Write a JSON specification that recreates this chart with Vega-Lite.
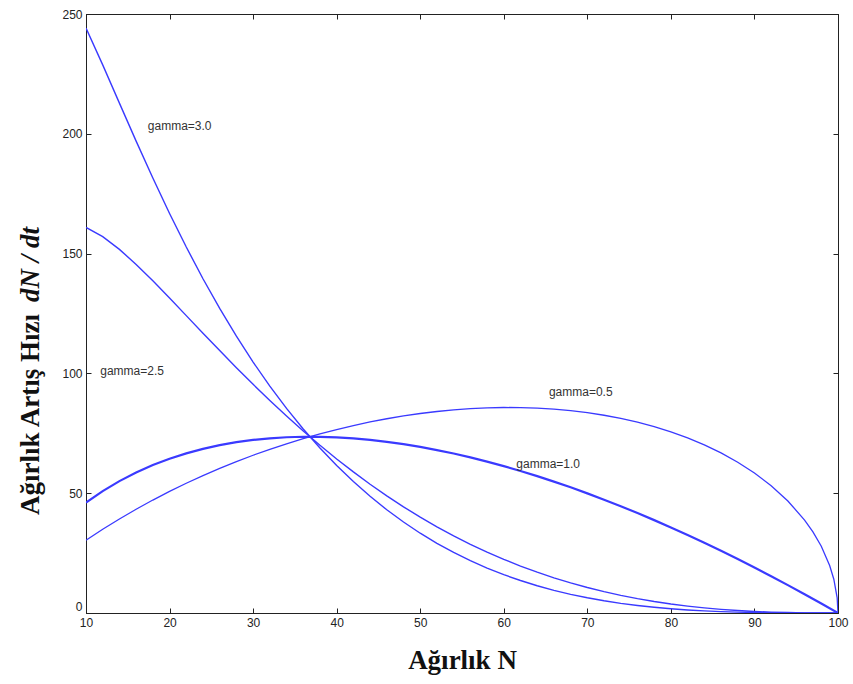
{
  "$schema": "https://vega.github.io/schema/vega-lite/v6.json",
  "width": 752,
  "height": 599,
  "autosize": "none",
  "padding": {"left": 86, "top": 14, "right": 15, "bottom": 71},
  "background": "white",
  "config": {
    "view": {"stroke": "#222", "strokeWidth": 1},
    "axis": {"grid": false, "domainColor": "#222", "tickColor": "#222", "labelFont": "Liberation Sans", "labelFontSize": 12, "labelColor": "#222", "labelFlush": false, "tickSize": -5, "titleFont": "Liberation Serif", "titleFontWeight": "bold", "titleFontSize": 27, "titleColor": "#111"}
  },
  "datasets": {
    "curves": [
      {"N":10,"r":30.35,"g":"0.5"},{"N":12,"r":34.95,"g":"0.5"},{"N":14,"r":39.26,"g":"0.5"},{"N":16,"r":43.32,"g":"0.5"},{"N":18,"r":47.14,"g":"0.5"},{"N":20,"r":50.75,"g":"0.5"},{"N":22,"r":54.14,"g":"0.5"},{"N":24,"r":57.34,"g":"0.5"},{"N":26,"r":60.35,"g":"0.5"},{"N":28,"r":63.18,"g":"0.5"},{"N":30,"r":65.84,"g":"0.5"},{"N":32,"r":68.32,"g":"0.5"},{"N":34,"r":70.63,"g":"0.5"},{"N":36,"r":72.78,"g":"0.5"},{"N":38,"r":74.76,"g":"0.5"},{"N":40,"r":76.58,"g":"0.5"},{"N":42,"r":78.24,"g":"0.5"},{"N":44,"r":79.74,"g":"0.5"},{"N":46,"r":81.07,"g":"0.5"},{"N":48,"r":82.25,"g":"0.5"},{"N":50,"r":83.26,"g":"0.5"},{"N":52,"r":84.10,"g":"0.5"},{"N":54,"r":84.78,"g":"0.5"},{"N":56,"r":85.28,"g":"0.5"},{"N":58,"r":85.61,"g":"0.5"},{"N":60,"r":85.77,"g":"0.5"},{"N":62,"r":85.73,"g":"0.5"},{"N":64,"r":85.51,"g":"0.5"},{"N":66,"r":85.09,"g":"0.5"},{"N":68,"r":84.46,"g":"0.5"},{"N":70,"r":83.61,"g":"0.5"},{"N":72,"r":82.53,"g":"0.5"},{"N":74,"r":81.21,"g":"0.5"},{"N":76,"r":79.63,"g":"0.5"},{"N":78,"r":77.76,"g":"0.5"},{"N":80,"r":75.58,"g":"0.5"},{"N":82,"r":73.06,"g":"0.5"},{"N":84,"r":70.15,"g":"0.5"},{"N":86,"r":66.80,"g":"0.5"},{"N":88,"r":62.93,"g":"0.5"},{"N":90,"r":58.43,"g":"0.5"},{"N":92,"r":53.13,"g":"0.5"},{"N":94,"r":46.76,"g":"0.5"},{"N":96,"r":38.79,"g":"0.5"},{"N":97,"r":33.86,"g":"0.5"},{"N":98,"r":27.86,"g":"0.5"},{"N":99,"r":19.85,"g":"0.5"},{"N":99.5,"r":14.09,"g":"0.5"},{"N":99.9,"r":6.32,"g":"0.5"},{"N":100,"r":0,"g":"0.5"},
      {"N":10,"r":46.05,"g":"1.0"},{"N":12,"r":50.89,"g":"1.0"},{"N":14,"r":55.05,"g":"1.0"},{"N":16,"r":58.64,"g":"1.0"},{"N":18,"r":61.73,"g":"1.0"},{"N":20,"r":64.38,"g":"1.0"},{"N":22,"r":66.62,"g":"1.0"},{"N":24,"r":68.50,"g":"1.0"},{"N":26,"r":70.05,"g":"1.0"},{"N":28,"r":71.29,"g":"1.0"},{"N":30,"r":72.24,"g":"1.0"},{"N":32,"r":72.92,"g":"1.0"},{"N":34,"r":73.36,"g":"1.0"},{"N":36,"r":73.56,"g":"1.0"},{"N":38,"r":73.54,"g":"1.0"},{"N":40,"r":73.30,"g":"1.0"},{"N":42,"r":72.87,"g":"1.0"},{"N":44,"r":72.25,"g":"1.0"},{"N":46,"r":71.44,"g":"1.0"},{"N":48,"r":70.46,"g":"1.0"},{"N":50,"r":69.31,"g":"1.0"},{"N":52,"r":68.01,"g":"1.0"},{"N":54,"r":66.55,"g":"1.0"},{"N":56,"r":64.94,"g":"1.0"},{"N":58,"r":63.19,"g":"1.0"},{"N":60,"r":61.30,"g":"1.0"},{"N":62,"r":59.28,"g":"1.0"},{"N":64,"r":57.12,"g":"1.0"},{"N":66,"r":54.85,"g":"1.0"},{"N":68,"r":52.45,"g":"1.0"},{"N":70,"r":49.93,"g":"1.0"},{"N":72,"r":47.30,"g":"1.0"},{"N":74,"r":44.56,"g":"1.0"},{"N":76,"r":41.71,"g":"1.0"},{"N":78,"r":38.76,"g":"1.0"},{"N":80,"r":35.70,"g":"1.0"},{"N":82,"r":32.55,"g":"1.0"},{"N":84,"r":29.29,"g":"1.0"},{"N":86,"r":25.94,"g":"1.0"},{"N":88,"r":22.50,"g":"1.0"},{"N":90,"r":18.96,"g":"1.0"},{"N":92,"r":15.34,"g":"1.0"},{"N":94,"r":11.63,"g":"1.0"},{"N":96,"r":7.84,"g":"1.0"},{"N":98,"r":3.96,"g":"1.0"},{"N":100,"r":0,"g":"1.0"},
      {"N":10,"r":160.91,"g":"2.5"},{"N":12,"r":157.10,"g":"2.5"},{"N":14,"r":151.77,"g":"2.5"},{"N":16,"r":145.48,"g":"2.5"},{"N":18,"r":138.62,"g":"2.5"},{"N":20,"r":131.45,"g":"2.5"},{"N":22,"r":124.12,"g":"2.5"},{"N":24,"r":116.79,"g":"2.5"},{"N":26,"r":109.52,"g":"2.5"},{"N":28,"r":102.38,"g":"2.5"},{"N":30,"r":95.43,"g":"2.5"},{"N":32,"r":88.70,"g":"2.5"},{"N":34,"r":82.20,"g":"2.5"},{"N":36,"r":75.96,"g":"2.5"},{"N":38,"r":69.99,"g":"2.5"},{"N":40,"r":64.29,"g":"2.5"},{"N":42,"r":58.88,"g":"2.5"},{"N":44,"r":53.74,"g":"2.5"},{"N":46,"r":48.89,"g":"2.5"},{"N":48,"r":44.31,"g":"2.5"},{"N":50,"r":40.00,"g":"2.5"},{"N":52,"r":35.96,"g":"2.5"},{"N":54,"r":32.19,"g":"2.5"},{"N":56,"r":28.67,"g":"2.5"},{"N":58,"r":25.40,"g":"2.5"},{"N":60,"r":22.38,"g":"2.5"},{"N":62,"r":19.59,"g":"2.5"},{"N":64,"r":17.03,"g":"2.5"},{"N":66,"r":14.69,"g":"2.5"},{"N":68,"r":12.56,"g":"2.5"},{"N":70,"r":10.64,"g":"2.5"},{"N":72,"r":8.91,"g":"2.5"},{"N":74,"r":7.36,"g":"2.5"},{"N":76,"r":6.00,"g":"2.5"},{"N":78,"r":4.80,"g":"2.5"},{"N":80,"r":3.76,"g":"2.5"},{"N":82,"r":2.88,"g":"2.5"},{"N":84,"r":2.13,"g":"2.5"},{"N":86,"r":1.52,"g":"2.5"},{"N":88,"r":1.03,"g":"2.5"},{"N":90,"r":0.65,"g":"2.5"},{"N":92,"r":0.37,"g":"2.5"},{"N":94,"r":0.18,"g":"2.5"},{"N":96,"r":0.06,"g":"2.5"},{"N":98,"r":0.01,"g":"2.5"},{"N":100,"r":0,"g":"2.5"},
      {"N":10,"r":244.16,"g":"3.0"},{"N":12,"r":228.76,"g":"3.0"},{"N":14,"r":212.81,"g":"3.0"},{"N":16,"r":196.94,"g":"3.0"},{"N":18,"r":181.53,"g":"3.0"},{"N":20,"r":166.76,"g":"3.0"},{"N":22,"r":152.74,"g":"3.0"},{"N":24,"r":139.51,"g":"3.0"},{"N":26,"r":127.11,"g":"3.0"},{"N":28,"r":115.52,"g":"3.0"},{"N":30,"r":104.71,"g":"3.0"},{"N":32,"r":94.68,"g":"3.0"},{"N":34,"r":85.38,"g":"3.0"},{"N":36,"r":76.78,"g":"3.0"},{"N":38,"r":68.85,"g":"3.0"},{"N":40,"r":61.54,"g":"3.0"},{"N":42,"r":54.84,"g":"3.0"},{"N":44,"r":48.69,"g":"3.0"},{"N":46,"r":43.08,"g":"3.0"},{"N":48,"r":37.96,"g":"3.0"},{"N":50,"r":33.30,"g":"3.0"},{"N":52,"r":29.08,"g":"3.0"},{"N":54,"r":25.27,"g":"3.0"},{"N":56,"r":21.83,"g":"3.0"},{"N":58,"r":18.75,"g":"3.0"},{"N":60,"r":16.00,"g":"3.0"},{"N":62,"r":13.55,"g":"3.0"},{"N":64,"r":11.38,"g":"3.0"},{"N":66,"r":9.47,"g":"3.0"},{"N":68,"r":7.80,"g":"3.0"},{"N":70,"r":6.35,"g":"3.0"},{"N":72,"r":5.10,"g":"3.0"},{"N":74,"r":4.04,"g":"3.0"},{"N":76,"r":3.14,"g":"3.0"},{"N":78,"r":2.39,"g":"3.0"},{"N":80,"r":1.78,"g":"3.0"},{"N":82,"r":1.28,"g":"3.0"},{"N":84,"r":0.89,"g":"3.0"},{"N":86,"r":0.59,"g":"3.0"},{"N":88,"r":0.37,"g":"3.0"},{"N":90,"r":0.21,"g":"3.0"},{"N":92,"r":0.11,"g":"3.0"},{"N":94,"r":0.04,"g":"3.0"},{"N":96,"r":0.01,"g":"3.0"},{"N":98,"r":0,"g":"3.0"},{"N":100,"r":0,"g":"3.0"}
    ],
    "labels": [
      {"N":17.4,"r":203.3,"text":"gamma=3.0"},
      {"N":11.7,"r":101,"text":"gamma=2.5"},
      {"N":65.4,"r":92.2,"text":"gamma=0.5"},
      {"N":61.5,"r":62.2,"text":"gamma=1.0"}
    ]
  },
  "resolve": {"axis": {"x": "independent", "y": "independent"}},
  "layer": [
    {
      "data": {"name": "curves"},
      "transform": [{"filter": "datum.g == '0.5' || datum.g == '1.0'"}],
      "mark": {"type": "line", "color": "#3a3aff", "clip": true},
      "encoding": {
        "x": {"field": "N", "type": "quantitative", "scale": {"domain": [10, 100], "nice": false, "zero": false},
              "axis": {"orient": "bottom", "values": [10,20,30,40,50,60,70,80,90,100], "title": "Ağırlık N", "titlePadding": 19, "labelPadding": 9}},
        "y": {"field": "r", "type": "quantitative", "scale": {"domain": [0, 250], "nice": false},
              "axis": {"orient": "left", "values": [0,50,100,150,200,250], "title": "Ağırlık Artış Hızı", "titleX": -56, "titleY": 400, "titleBaseline": "middle", "titleAlign": "center", "labelPadding": 9,
                       "labelBaseline": {"condition": {"test": "datum.value == 0", "value": "bottom"}, "value": "middle"}}},
        "detail": {"field": "g"},
        "strokeWidth": {"field": "g", "type": "nominal", "scale": {"domain": ["0.5", "1.0"], "range": [1.3, 2.2]}, "legend": null}
      }
    },
    {
      "data": {"name": "curves"},
      "transform": [{"filter": "datum.g == '2.5' || datum.g == '3.0'"}],
      "mark": {"type": "line", "color": "#3a3aff", "strokeWidth": 1.4, "clip": true},
      "encoding": {
        "x": {"field": "N", "type": "quantitative", "scale": {"domain": [10, 100], "nice": false, "zero": false},
              "axis": {"orient": "top", "values": [10,20,30,40,50,60,70,80,90,100], "labels": false, "title": null}},
        "y": {"field": "r", "type": "quantitative", "scale": {"domain": [0, 250], "nice": false},
              "axis": {"orient": "right", "values": [0,50,100,150,200,250], "labels": false, "title": null}},
        "detail": {"field": "g"}
      }
    },
    {
      "data": {"name": "labels"},
      "mark": {"type": "text", "align": "left", "baseline": "middle", "font": "Liberation Sans", "fontSize": 12, "color": "#333"},
      "encoding": {
        "x": {"field": "N", "type": "quantitative", "scale": {"domain": [10, 100], "nice": false, "zero": false}, "axis": null},
        "y": {"field": "r", "type": "quantitative", "scale": {"domain": [0, 250], "nice": false},
              "axis": {"orient": "left", "domain": false, "ticks": false, "labels": false, "title": "dN / dt", "titleFontStyle": "italic", "titleX": -56, "titleY": 250, "titleBaseline": "middle", "titleAlign": "center"}},
        "text": {"field": "text"}
      }
    }
  ]
}
